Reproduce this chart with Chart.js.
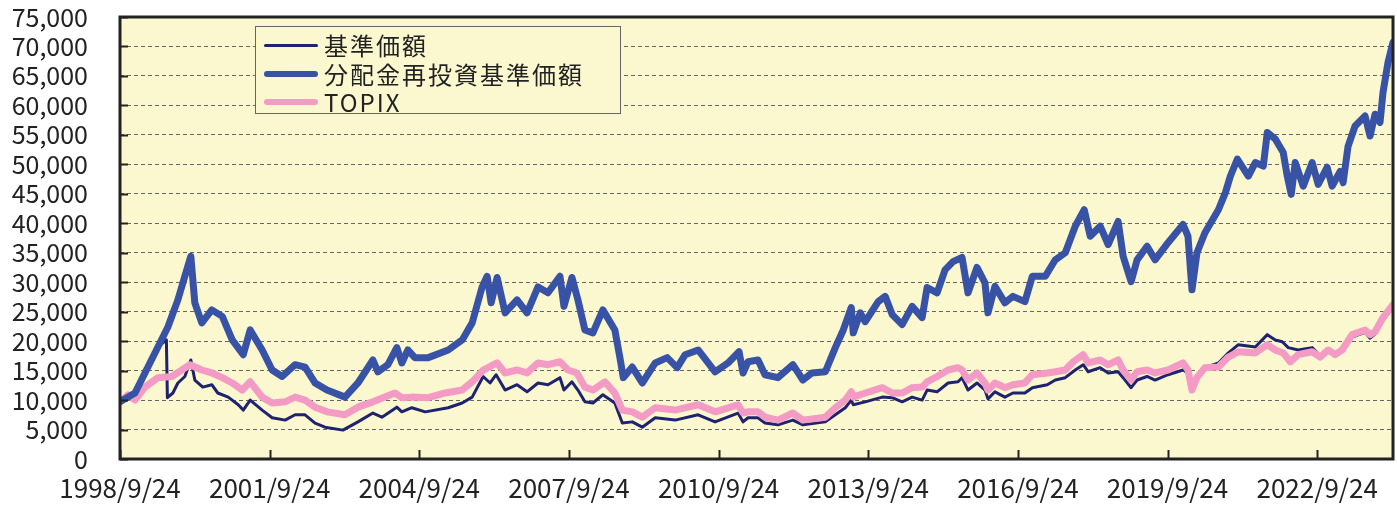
<!DOCTYPE html>
<html>
<head>
  <meta charset="utf-8">
  <title>基準価額推移</title>
  <script src="https://cdn.jsdelivr.net/npm/chart.js@4.4.1/dist/chart.umd.min.js"></script>
  <style>
    body {
      margin: 0;
      background: #fff;
    }
    .wrap {
      position: relative;
      width: 1397px;
      height: 506px;
    }
    .legend {
      position: absolute;
      left: 255px;
      top: 26px;
      width: 364px;
      height: 86px;
      border: 1px solid #666;
      background: #fbf8d0;
      font-family: "Noto Sans CJK JP", "Noto Sans", sans-serif;
      font-size: 24px;
      color: #222;
    }
    .legend .row {
      position: absolute;
      left: 8px;
      height: 28px;
      line-height: 28px;
      white-space: nowrap;
    }
    .legend .swatch {
      display: inline-block;
      width: 54px;
      vertical-align: middle;
      border-radius: 3px;
      margin-right: 6px;
    }
    .legend .label {
      letter-spacing: 2px;
      vertical-align: middle;
    }
  </style>
</head>
<body>
  <div class="wrap">
    <canvas id="navChart" width="1397" height="506"></canvas>
    <div class="legend" id="legend"></div>
  </div>

  <script>
    // x axis ticks (decimal year) and their labels
    const tickYears = [1998.73, 2001.73, 2004.73, 2007.73, 2010.73, 2013.73, 2016.73, 2019.73, 2022.73];
    const tickLabels = ['1998/9/24', '2001/9/24', '2004/9/24', '2007/9/24', '2010/9/24',
                        '2013/9/24', '2016/9/24', '2019/9/24', '2022/9/24'];

    // 分配金再投資基準価額
    const reinvYears = [
      1998.73, 1999.03, 1999.23, 1999.49, 1999.69, 1999.89, 2000.03, 2000.15, 2000.23, 2000.37,
      2000.57, 2000.78, 2000.98, 2001.20, 2001.34, 2001.58, 2001.78, 2001.98, 2002.24, 2002.44,
      2002.64, 2002.88, 2003.24, 2003.50, 2003.80, 2003.90, 2004.10, 2004.28, 2004.38, 2004.50,
      2004.64, 2004.91, 2005.31, 2005.59, 2005.79, 2005.99, 2006.09, 2006.17, 2006.29, 2006.45,
      2006.69, 2006.89, 2007.11, 2007.31, 2007.55, 2007.63, 2007.79, 2007.91, 2008.05, 2008.21,
      2008.41, 2008.65, 2008.75, 2008.82, 2009.00, 2009.20, 2009.46, 2009.70, 2009.90, 2010.06,
      2010.32, 2010.66, 2010.92, 2011.14, 2011.22, 2011.32, 2011.52, 2011.66, 2011.92, 2012.22,
      2012.42, 2012.60, 2012.87, 2013.07, 2013.23, 2013.39, 2013.43, 2013.57, 2013.67, 2013.93,
      2014.07, 2014.21, 2014.41, 2014.61, 2014.81, 2014.91, 2015.11, 2015.27, 2015.43, 2015.61,
      2015.73, 2015.91, 2016.07, 2016.13, 2016.27, 2016.47, 2016.63, 2016.87, 2017.02, 2017.28,
      2017.48, 2017.68, 2017.88, 2018.06, 2018.18, 2018.38, 2018.54, 2018.74, 2018.84, 2019.00,
      2019.12, 2019.32, 2019.48, 2019.74, 2020.04, 2020.14, 2020.22, 2020.32, 2020.48, 2020.75,
      2020.89, 2020.99, 2021.13, 2021.35, 2021.49, 2021.65, 2021.73, 2021.89, 2022.05, 2022.13,
      2022.21, 2022.29, 2022.45, 2022.63, 2022.75, 2022.93, 2023.03, 2023.19, 2023.25, 2023.35,
      2023.49, 2023.69, 2023.79, 2023.89, 2023.99, 2024.05, 2024.15, 2024.25
    ];
    const reinvValues = [
      9700, 11200, 14600, 19000, 22400, 27000, 31000, 34400, 26500, 23100,
      25300, 24200, 20200, 17700, 21900, 18500, 15100, 14000, 16000, 15600,
      12900, 11700, 10500, 12900, 16800, 14800, 16000, 18900, 16300, 18500,
      17200, 17200, 18500, 20200, 23100, 29200, 31000, 26500, 30800, 24800,
      27000, 24800, 29200, 28200, 31000, 25900, 30800, 27000, 21900, 21400,
      25300, 21900, 17300, 13800, 15600, 12900, 16300, 17200, 15500, 17700,
      18500, 14800, 16300, 18200, 14600, 16500, 16800, 14300, 13800, 16000,
      13400, 14600, 14800, 18900, 21900, 25700, 21400, 24800, 23300, 26700,
      27600, 24500, 22800, 25900, 24000, 29100, 28200, 32100, 33500, 34200,
      28200, 32500, 29900, 24800, 29300, 26500, 27600, 26700, 31000, 31000,
      33800, 35000, 39500, 42300, 37800, 39500, 36400, 40300, 34400, 30100,
      33800, 36100, 33800, 36700, 39800, 37800, 28700, 35000, 38400, 42300,
      45200, 48000, 50900, 48000, 50300, 49700, 55400, 54300, 52000, 48000,
      44900, 50300, 46300, 50300, 46600, 49500, 46300, 48800, 46900, 53100,
      56500, 58200, 54800, 58500, 57100, 62200, 67300, 70700
    ];

    // 基準価額
    const navYears = [
      1998.73, 1999.03, 1999.23, 1999.49, 1999.66, 1999.68, 1999.79, 1999.89, 2000.03, 2000.15,
      2000.23, 2000.39, 2000.57, 2000.69, 2000.90, 2001.10, 2001.20, 2001.34, 2001.58, 2001.78,
      2002.04, 2002.24, 2002.44, 2002.64, 2002.84, 2003.20, 2003.50, 2003.80, 2003.98, 2004.28,
      2004.38, 2004.58, 2004.85, 2005.31, 2005.59, 2005.79, 2006.01, 2006.15, 2006.27, 2006.45,
      2006.69, 2006.89, 2007.11, 2007.31, 2007.55, 2007.63, 2007.79, 2007.91, 2008.05, 2008.21,
      2008.41, 2008.65, 2008.80, 2009.00, 2009.20, 2009.46, 2009.86, 2010.32, 2010.66, 2011.12,
      2011.22, 2011.32, 2011.52, 2011.66, 2011.92, 2012.22, 2012.42, 2012.87, 2013.07, 2013.27,
      2013.39, 2013.43, 2013.67, 2014.01, 2014.21, 2014.41, 2014.61, 2014.81, 2014.91, 2015.11,
      2015.33, 2015.53, 2015.61, 2015.73, 2015.91, 2016.07, 2016.13, 2016.27, 2016.47, 2016.63,
      2016.87, 2017.02, 2017.32, 2017.48, 2017.68, 2017.88, 2018.04, 2018.14, 2018.38, 2018.54,
      2018.74, 2018.84, 2019.00, 2019.12, 2019.32, 2019.48, 2019.74, 2020.04, 2020.14, 2020.22,
      2020.32, 2020.48, 2020.75, 2020.95, 2021.15, 2021.49, 2021.73, 2021.89, 2022.03, 2022.15,
      2022.35, 2022.63, 2022.79, 2022.95, 2023.09, 2023.23, 2023.43, 2023.69, 2023.79, 2023.89,
      2024.05, 2024.25
    ];
    const navValues = [
      9700, 11200, 14600, 19000, 20200, 10400, 11200, 12900, 14000, 16800,
      13400, 12200, 12600, 11200, 10500, 9200, 8300, 10000, 8300, 7000,
      6600, 7500, 7500, 6100, 5400, 4900, 6300, 7800, 7100, 8800,
      8000, 8700, 8000, 8700, 9500, 10500, 14000, 12900, 14300, 11700,
      12600, 11400, 12900, 12600, 13800, 11700, 13100, 11700, 9700, 9500,
      10900, 9500, 6100, 6300, 5400, 7000, 6600, 7500, 6300, 7800,
      6300, 7000, 7000, 6100, 5800, 6600, 5800, 6300, 7500, 8700,
      10000, 9200, 9700, 10500, 10400, 9700, 10500, 10000, 11700, 11400,
      12900, 13100, 13800, 11700, 12900, 11700, 10200, 11400, 10500, 11200,
      11200, 12100, 12600, 13400, 13800, 15100, 16000, 14800, 15500, 14600,
      14800, 13800, 12100, 13400, 14000, 13400, 14300, 15100, 14600, 11500,
      13600, 15500, 16300, 18000, 19400, 19000, 21100, 20200, 19900, 18900,
      18500, 18900, 17500, 18400, 17700, 18300, 20700, 21500, 20500, 21200,
      23500, 25800
    ];

    // TOPIX
    const topixYears = [
      1998.73, 1998.89, 1999.03, 1999.23, 1999.49, 1999.77, 1999.97, 2000.13, 2000.37, 2000.57,
      2000.78, 2000.98, 2001.18, 2001.34, 2001.58, 2001.78, 2002.04, 2002.24, 2002.44, 2002.64,
      2002.88, 2003.24, 2003.50, 2003.80, 2004.24, 2004.38, 2004.58, 2004.91, 2005.25, 2005.59,
      2005.79, 2006.01, 2006.29, 2006.45, 2006.69, 2006.89, 2007.11, 2007.31, 2007.55, 2007.71,
      2007.89, 2008.05, 2008.21, 2008.45, 2008.65, 2008.80, 2009.00, 2009.20, 2009.46, 2009.86,
      2010.32, 2010.66, 2011.12, 2011.22, 2011.32, 2011.52, 2011.66, 2011.92, 2012.22, 2012.42,
      2012.87, 2013.07, 2013.27, 2013.39, 2013.43, 2013.67, 2014.01, 2014.21, 2014.41, 2014.61,
      2014.81, 2014.91, 2015.11, 2015.33, 2015.53, 2015.61, 2015.73, 2015.91, 2016.07, 2016.13,
      2016.27, 2016.47, 2016.63, 2016.87, 2017.02, 2017.32, 2017.48, 2017.68, 2017.84, 2018.04,
      2018.14, 2018.38, 2018.54, 2018.74, 2018.84, 2019.00, 2019.12, 2019.32, 2019.48, 2019.74,
      2020.04, 2020.14, 2020.22, 2020.32, 2020.48, 2020.75, 2020.95, 2021.15, 2021.49, 2021.73,
      2021.89, 2022.05, 2022.19, 2022.35, 2022.63, 2022.79, 2022.95, 2023.09, 2023.23, 2023.43,
      2023.69, 2023.79, 2023.89, 2024.05, 2024.25
    ];
    const topixValues = [
      9700, 10900, 10000, 12200, 13800, 14000, 15100, 16000, 15100, 14600,
      13800, 12900, 11700, 13100, 10500, 9500, 9700, 10500, 10000, 8800,
      8000, 7500, 8800, 9700, 11200, 10400, 10500, 10400, 11200, 11700,
      13100, 15100, 16300, 14600, 15100, 14600, 16300, 16000, 16500, 15100,
      14600, 12200, 11700, 13100, 11200, 8300, 8000, 7100, 8700, 8300,
      9200, 8000, 9200, 7800, 8000, 8000, 7100, 6600, 7800, 6600,
      7100, 8700, 10000, 11400, 10500, 11200, 12100, 11200, 11200, 12100,
      12200, 13100, 14000, 15100, 15500, 15100, 13400, 14600, 12900, 11700,
      12900, 12100, 12600, 12900, 14300, 14600, 14800, 15100, 16500, 17700,
      16300, 16800, 16000, 16800, 15100, 13400, 14800, 15100, 14600, 15100,
      16300, 15100, 11700, 13800, 15500, 15600, 17300, 18200, 18000, 19400,
      18500, 18000, 16500, 17700, 18200, 17300, 18500, 17700, 18500, 21100,
      21900, 21100, 21600, 24000, 26200
    ];

    const BG = '#fbf8d0';
    const FONT = '"Noto Sans CJK JP", "Noto Sans", sans-serif';

    const series = [
      { label: '基準価額', years: navYears, values: navValues, color: '#1f236f', width: 3, order: 3 },
      { label: '分配金再投資基準価額', years: reinvYears, values: reinvValues, color: '#3853a6', width: 7, order: 1 },
      { label: 'TOPIX', years: topixYears, values: topixValues, color: '#f39ac5', width: 7, order: 2 }
    ];

    // plot background, frame and inward tick marks
    const framePlugin = {
      id: 'frame',
      beforeDraw(chart) {
        const { ctx, chartArea: a } = chart;
        ctx.save();
        ctx.fillStyle = BG;
        ctx.fillRect(a.left, a.top, a.right - a.left, a.bottom - a.top);
        ctx.restore();
      },
      afterDraw(chart) {
        const { ctx, chartArea: a, scales } = chart;
        ctx.save();
        ctx.strokeStyle = '#222';
        ctx.lineWidth = 2;
        ctx.beginPath();
        scales.y.ticks.forEach(t => {
          const py = Math.round(scales.y.getPixelForValue(t.value)) + 0.5;
          ctx.moveTo(a.left, py);
          ctx.lineTo(a.left + 8, py);
        });
        tickYears.forEach(v => {
          const px = Math.round(scales.x.getPixelForValue(v)) + 0.5;
          ctx.moveTo(px, a.bottom);
          ctx.lineTo(px, a.bottom - 9);
        });
        ctx.stroke();
        ctx.lineWidth = 3;
        ctx.strokeRect(a.left, a.top, a.right - a.left, a.bottom - a.top);
        ctx.restore();
      }
    };

    const ctx = document.getElementById('navChart').getContext('2d');
    new Chart(ctx, {
      type: 'line',
      data: {
        datasets: series.map(s => ({
          label: s.label,
          data: s.years.map((yr, i) => ({ x: yr, y: s.values[i] })),
          borderColor: s.color,
          borderWidth: s.width,
          borderJoinStyle: 'round',
          borderCapStyle: 'round',
          pointRadius: 0,
          tension: 0,
          fill: false,
          order: s.order
        }))
      },
      options: {
        responsive: false,
        animation: false,
        devicePixelRatio: 1,
        layout: { padding: { left: 0, top: 17, right: 4, bottom: 0 } },
        plugins: {
          legend: { display: false },
          tooltip: { enabled: false }
        },
        scales: {
          x: {
            type: 'linear',
            min: 1998.73,
            max: 2024.25,
            afterBuildTicks(scale) {
              scale.ticks = tickYears.map(v => ({ value: v }));
            },
            afterFit(scale) {
              scale.height = 47;
              scale.paddingLeft = 0;
              scale.paddingRight = 0;
            },
            grid: { display: false, drawTicks: false },
            border: { display: false },
            ticks: {
              autoSkip: false,
              maxRotation: 0,
              padding: 14,
              color: '#222',
              font: { family: FONT, size: 26 },
              callback(v) {
                const i = tickYears.indexOf(v);
                return i >= 0 ? tickLabels[i] : '';
              }
            }
          },
          y: {
            min: 0,
            max: 75000,
            afterFit(scale) {
              scale.width = 120;
              scale.paddingTop = 0;
              scale.paddingBottom = 0;
            },
            grid: {
              drawTicks: false,
              color: '#666',
              lineWidth: 1
            },
            border: { display: false, dash: [4, 3] },
            ticks: {
              autoSkip: false,
              stepSize: 5000,
              padding: 32,
              color: '#222',
              font: { family: FONT, size: 25 },
              callback: v => v.toLocaleString('en-US')
            }
          }
        }
      },
      plugins: [framePlugin]
    });

    // legend box drawn as html on top of the plot
    const legendEl = document.getElementById('legend');
    const rowTops = [1, 30, 58];
    series.forEach((s, i) => {
      const row = document.createElement('div');
      row.className = 'row';
      row.style.top = rowTops[i] + 'px';
      row.innerHTML = '<span class="swatch" style="height:' + Math.min(s.width, 6) + 'px;background:' +
        s.color + '"></span><span class="label">' + s.label + '</span>';
      legendEl.appendChild(row);
    });
  </script>
</body>
</html>
